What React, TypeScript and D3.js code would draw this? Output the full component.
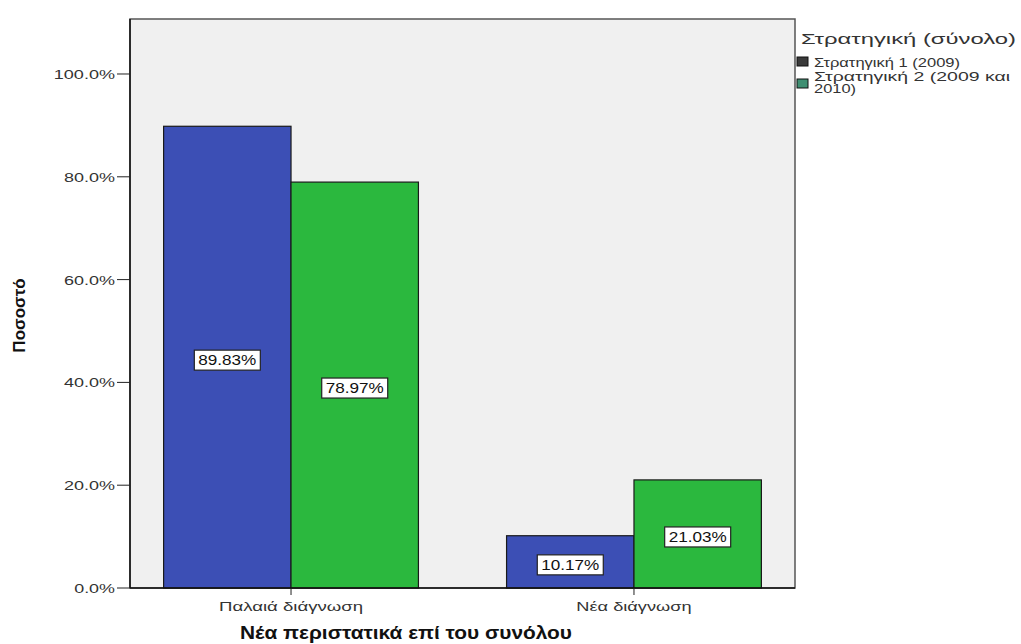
import React from "react";
import * as d3 from "d3";

const categories = ["Παλαιά διάγνωση", "Νέα διάγνωση"];
const seriesNames = ["Στρατηγική 1 (2009)", "Στρατηγική 2 (2009 και", "2010)"];
const strategy1 = [89.83, 10.17];
const strategy2 = [78.97, 21.03];
const yTicks = [0, 20, 40, 60, 80, 100];

const W = 1021;
const H = 644;
const left = 130, right = 795, top = 19, bottom = 588;
const barColors = ["#3c4fb5", "#2bb83e"];
const swatchColors = ["#3a3a3a", "#3f8f72"];
const font = "'Liberation Sans', Arial, sans-serif";

export default function App() {
  const x0 = d3.scaleBand<string>().domain(categories).range([left, right]).paddingInner(0.257).paddingOuter(0.098);
  const x1 = d3.scaleBand<string>().domain(["s1", "s2"]).range([0, x0.bandwidth()]).padding(0);
  const y = d3.scaleLinear().domain([0, 110.7]).range([bottom, top]);
  const fmt = d3.format(".1f");

  const bars: { cat: string; key: string; v: number; color: string }[] = [];
  categories.forEach((c, i) => {
    bars.push({ cat: c, key: "s1", v: strategy1[i], color: barColors[0] });
    bars.push({ cat: c, key: "s2", v: strategy2[i], color: barColors[1] });
  });

  return (
    <svg width={W} height={H} style={{ position: "absolute", left: 0, top: 0, background: "#fff" }} fontFamily={font}>
      <rect x={left} y={top} width={right - left} height={bottom - top} fill="#f0f0f0" stroke="#555" strokeWidth={1.5} />
      {bars.map((b, i) => {
        const bx = (x0(b.cat) as number) + (x1(b.key) as number);
        const bw = x1.bandwidth();
        const by = y(b.v);
        const bh = bottom - by;
        const label = b.v.toFixed(2) + "%";
        const cy = by + bh / 2 + 3;
        const lw = 66;
        const lh = 20;
        return (
          <g key={i}>
            <rect x={bx} y={by} width={bw} height={bh} fill={b.color} stroke="#1a1a1a" strokeWidth={1.2} />
            <rect x={bx + bw / 2 - lw / 2} y={cy - lh / 2} width={lw} height={lh} fill="#fff" stroke="#222" strokeWidth={1.2} />
            <text x={bx + bw / 2 - 29} y={cy + 5} fontSize={14} fill="#111" textLength={58} lengthAdjust="spacingAndGlyphs">{label}</text>
          </g>
        );
      })}
      {/* Y axis */}
      <line x1={left} x2={left} y1={top} y2={bottom} stroke="#111" strokeWidth={1.5} />
      {yTicks.map((t) => {
        const s = fmt(t) + "%";
        return (
          <g key={t}>
            <line x1={left - 13} x2={left} y1={y(t)} y2={y(t)} stroke="#222" />
            <text x={left - 15} y={y(t) + 5} textAnchor="end" fontSize={12.5} fill="#333" textLength={s.length * 10.2} lengthAdjust="spacingAndGlyphs">{s}</text>
          </g>
        );
      })}
      {/* X axis */}
      <line x1={left} x2={right} y1={bottom} y2={bottom} stroke="#111" strokeWidth={1.5} />
      {categories.map((c) => {
        const cx = (x0(c) as number) + x0.bandwidth() / 2;
        return (
          <g key={c}>
            <line x1={cx} x2={cx} y1={bottom} y2={bottom + 7} stroke="#222" />
            <text x={cx} y={bottom + 23} textAnchor="middle" fontSize={13} fill="#333" textLength={c.length * 9.6} lengthAdjust="spacingAndGlyphs">{c}</text>
          </g>
        );
      })}
      <text x={406} y={639} textAnchor="middle" fontSize={18} fontWeight="bold" fill="#111" textLength={332} lengthAdjust="spacingAndGlyphs">Νέα περιστατικά επί του συνόλου</text>
      <g transform={`translate(25,${(top + bottom) / 2 + 12})`}>
        <text transform="rotate(-90)" textAnchor="middle" fontSize={17} fontWeight="bold" fill="#111">Ποσοστό</text>
      </g>
      {/* Legend */}
      <text x={801} y={44} fontSize={15} fill="#333" textLength={215} lengthAdjust="spacingAndGlyphs">Στρατηγική (σύνολο)</text>
      <rect x={797} y={57} width={11} height={9} fill={swatchColors[0]} stroke="#111" />
      <text x={814} y={67} fontSize={12} fill="#333" textLength={146} lengthAdjust="spacingAndGlyphs">{seriesNames[0]}</text>
      <rect x={797} y={79} width={11} height={9} fill={swatchColors[1]} stroke="#111" />
      <text x={814} y={81} fontSize={12} fill="#333" textLength={196} lengthAdjust="spacingAndGlyphs">{seriesNames[1]}</text>
      <text x={814} y={93} fontSize={12} fill="#333" textLength={42} lengthAdjust="spacingAndGlyphs">{seriesNames[2]}</text>
    </svg>
  );
}
